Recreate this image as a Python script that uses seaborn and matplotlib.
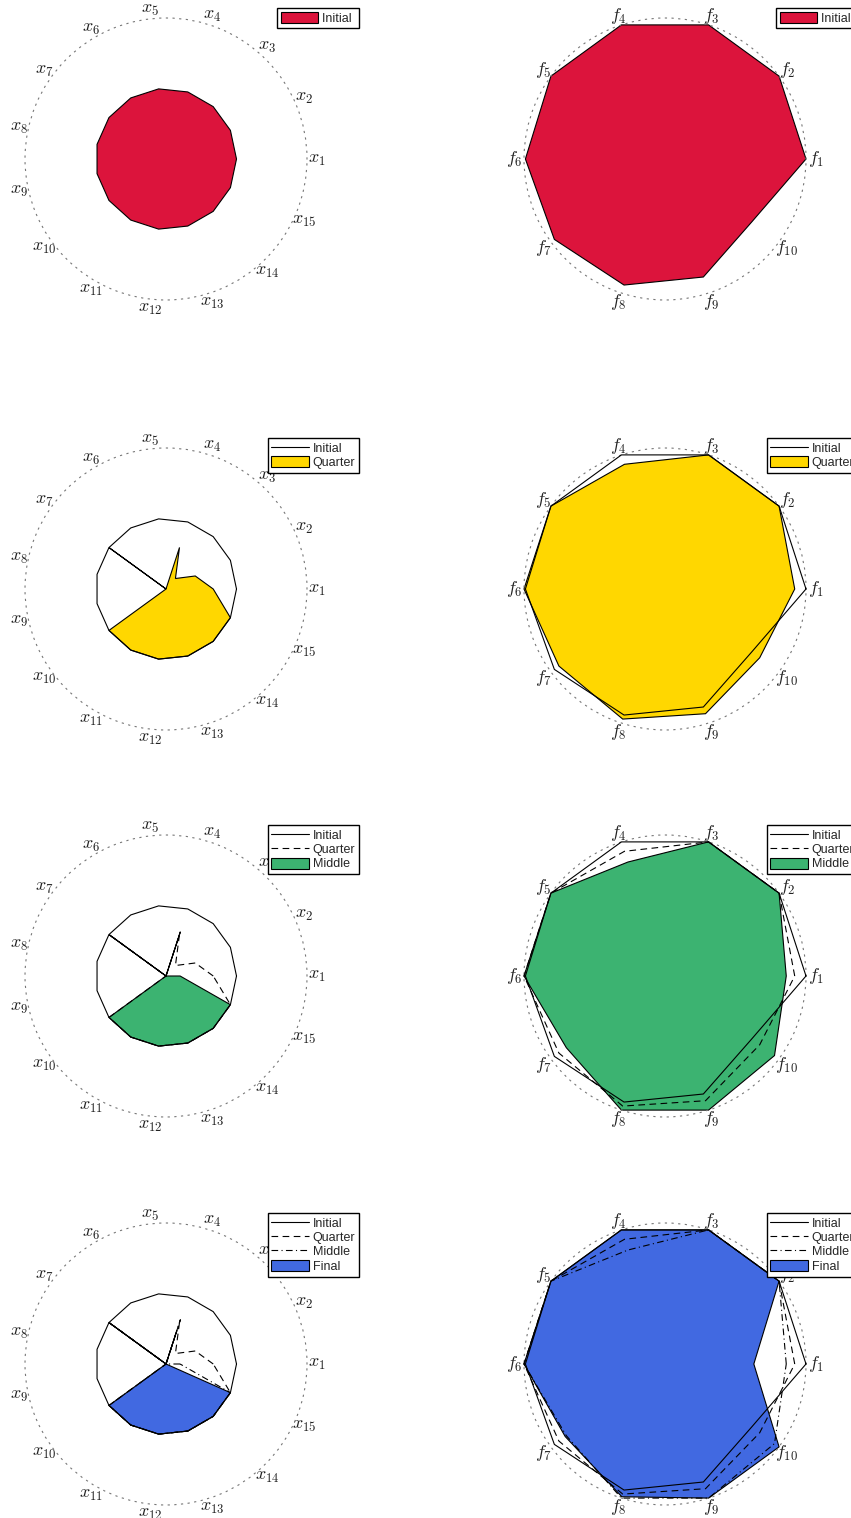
import numpy as np
import matplotlib
matplotlib.use("Agg")
import matplotlib.pyplot as plt
import seaborn as sns
from matplotlib.lines import Line2D
from matplotlib.patches import Patch

sns.set_style("white")
plt.rcParams["mathtext.fontset"] = "cm"
plt.rcParams["font.family"] = ["Liberation Sans", "DejaVu Sans"]

# ---------------- data ----------------
x_labels = [r"$x_{1}$", r"$x_{2}$", r"$x_{3}$", r"$x_{4}$", r"$x_{5}$",
            r"$x_{6}$", r"$x_{7}$", r"$x_{8}$", r"$x_{9}$", r"$x_{10}$",
            r"$x_{11}$", r"$x_{12}$", r"$x_{13}$", r"$x_{14}$", r"$x_{15}$"]
f_labels = [r"$f_{1}$", r"$f_{2}$", r"$f_{3}$", r"$f_{4}$", r"$f_{5}$",
            r"$f_{6}$", r"$f_{7}$", r"$f_{8}$", r"$f_{9}$", r"$f_{10}$"]

stages = ["Initial", "Quarter", "Middle", "Final"]
stage_colors = ["crimson", "gold", "mediumseagreen", "royalblue"]
stage_styles = ["-", (0, (6, 4)), (0, (6, 3, 1, 3)), ":"]

x_initial = [0.50, 0.50, 0.50, 0.50, 0.50, 0.50, 0.50, 0.50, 0.50, 0.50, 0.50, 0.50, 0.50, 0.50, 0.50]
x_quarter = [0.335, 0.227, 0.10, 0.31, 0.0, 0.0, 0.50, 0.0, 0.0, 0.50, 0.50, 0.50, 0.50, 0.50, 0.50]
x_middle = [0.10, 0.0, 0.0, 0.33, 0.0, 0.0, 0.50, 0.0, 0.0, 0.50, 0.50, 0.50, 0.50, 0.50, 0.50]
x_final = [0.0, 0.0, 0.0, 0.22, 0.0, 0.0, 0.50, 0.0, 0.0, 0.50, 0.50, 0.50, 0.50, 0.50, 0.50]

f_initial = [1.00, 1.00, 1.00, 1.00, 1.00, 0.99, 0.97, 0.94, 0.88, 0.76]
f_quarter = [0.92, 1.00, 1.00, 0.93, 1.00, 1.00, 0.93, 0.97, 0.93, 0.83]
f_middle = [0.86, 1.00, 1.00, 0.85, 1.00, 1.00, 0.865, 1.00, 1.00, 0.96]
f_final = [0.63, 1.00, 1.00, 1.00, 1.00, 1.00, 0.875, 0.99, 1.00, 1.00]

x_series = [x_initial, x_quarter, x_middle, x_final]
f_series = [f_initial, f_quarter, f_middle, f_final]

# ---------------- layout ----------------
W, H = 851, 1518
fig = plt.figure(figsize=(W / 100, H / 100), dpi=100)
R = 141
row_cy = [159, 589, 976, 1364]
col_cx = [166, 665]


def radar(ax, labels, series, k):
    n = len(labels)
    theta = np.deg2rad(np.arange(n) * 360.0 / n)
    th_closed = np.append(theta, theta[0])
    # current stage: filled polygon
    vals = np.append(np.asarray(series[k]), series[k][0])
    ax.fill(th_closed, vals, facecolor=stage_colors[k], edgecolor="black",
            linewidth=0.8, clip_on=False, zorder=2)
    # previous stages: outlines
    for j in range(k):
        v = np.append(np.asarray(series[j]), series[j][0])
        sns.lineplot(x=th_closed, y=v, sort=False, estimator=None, ax=ax,
                     color="black", linewidth=0.8, linestyle=stage_styles[j],
                     clip_on=False, zorder=3)
    ax.set_xlabel("")
    ax.set_ylabel("")
    ax.set_ylim(0, 1)
    ax.set_yticks([])
    ax.set_xticks(theta)
    ax.set_xticklabels(labels, fontsize=13, color="#222222")
    ax.tick_params(axis="x", pad=0, length=0)
    ax.grid(False)
    ax.spines["polar"].set_linestyle((0, (1, 5)))
    ax.spines["polar"].set_color("#777777")
    ax.spines["polar"].set_linewidth(0.8)
    ax.set_facecolor("none")

    handles = []
    for j in range(k):
        handles.append(Line2D([0], [0], color="black", linewidth=0.8,
                              linestyle=stage_styles[j], label=stages[j]))
    last = stages[k] + (" " if k == 0 else "")
    handles.append(Patch(facecolor=stage_colors[k], edgecolor="black",
                         linewidth=0.8, label=last))
    leg = ax.legend(handles=handles, loc="upper right",
                    bbox_to_anchor=((R + 193) / (2 * R), (R + 151) / (2 * R)),
                    fontsize=9, frameon=True, fancybox=False, framealpha=1,
                    edgecolor="black", borderpad=0.3, borderaxespad=0,
                    handlelength=3.0, handleheight=1.0, handletextpad=0.3,
                    labelspacing=0.12)
    leg.get_frame().set_linewidth(1.0)


for i in range(4):
    for c, (labels, series) in enumerate([(x_labels, x_series), (f_labels, f_series)]):
        cx, cy = col_cx[c], row_cy[i]
        rect = [(cx - R) / W, 1 - (cy + R) / H, 2 * R / W, 2 * R / H]
        ax = fig.add_axes(rect, projection="polar")
        radar(ax, labels, series, i)

fig.savefig("out.png", dpi=100)
